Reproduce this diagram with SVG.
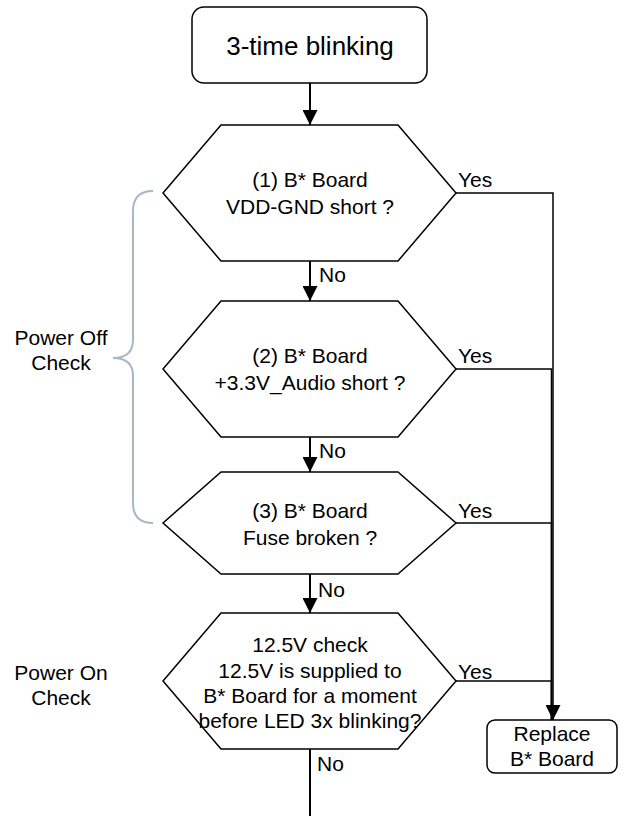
<svg xmlns="http://www.w3.org/2000/svg" width="639" height="816" viewBox="0 0 639 816">
<style>
  .t { font-family: "Liberation Sans", Arial, sans-serif; font-size: 21px; fill: #000; }
  .c { text-anchor: middle; }
  .shape { fill: #fff; stroke: #000; stroke-width: 1.5; }
  .conn { fill: none; stroke: #000; stroke-width: 2; }
  .yes { fill: none; stroke: #000; stroke-width: 1.5; }
  .brace { fill: none; stroke: #A7B7CA; stroke-width: 2; }
</style>
<defs>
  <marker id="arr" markerUnits="userSpaceOnUse" markerWidth="15" markerHeight="15" refX="15" refY="7.5" orient="auto">
    <path d="M0,0 L15,7.5 L0,15 Z" fill="#000"/>
  </marker>
</defs>
<rect width="639" height="816" fill="#fff"/>

<g id="connectors">
  <path class="conn" d="M310,83 V125" marker-end="url(#arr)"/>
  <path class="conn" d="M310,261 V301" marker-end="url(#arr)"/>
  <path class="conn" d="M310,437 V472" marker-end="url(#arr)"/>
  <path class="conn" d="M310,574 V613" marker-end="url(#arr)"/>
  <path class="conn" d="M310,749 V816"/>
  <path class="yes" d="M456,193 H553 V720" marker-end="url(#arr)"/>
  <path class="yes" d="M456,369 H551.5 V720"/>
  <path class="yes" d="M456,523 H551.5 V720"/>
  <path class="yes" d="M456,681 H551.5 V720"/>
  <text class="t" x="319" y="282">No</text>
  <text class="t" x="319" y="458">No</text>
  <text class="t" x="318" y="597">No</text>
  <text class="t" x="317" y="771">No</text>
  <text class="t" x="458" y="187">Yes</text>
  <text class="t" x="458" y="363">Yes</text>
  <text class="t" x="458" y="518">Yes</text>
  <text class="t" x="458" y="679">Yes</text>
</g>

<g id="start">
  <rect class="shape" x="192" y="7" width="235" height="76" rx="12"/>
  <text class="t c" x="310" y="55" style="font-size:26px">3-time blinking</text>
</g>

<g id="check1">
  <polygon class="shape" points="221,125 398,125 456,193 398,261 221,261 163,193"/>
  <text class="t c" x="310" y="187">(1) B* Board</text>
  <text class="t c" x="310" y="214">VDD-GND short ?</text>
</g>

<g id="check2">
  <polygon class="shape" points="221,301 398,301 456,369 398,437 221,437 163,369"/>
  <text class="t c" x="310" y="363">(2) B* Board</text>
  <text class="t c" x="310" y="390">+3.3V_Audio short ?</text>
</g>

<g id="check3">
  <polygon class="shape" points="221,472 398,472 456,523 398,574 221,574 163,523"/>
  <text class="t c" x="310" y="518">(3) B* Board</text>
  <text class="t c" x="310" y="545">Fuse broken ?</text>
</g>

<g id="check4">
  <polygon class="shape" points="221,613 398,613 456,681 398,749 221,749 163,681"/>
  <text class="t c" x="310" y="652">12.5V check</text>
  <text class="t c" x="310" y="678">12.5V is supplied to</text>
  <text class="t c" x="310" y="703">B* Board for a moment</text>
  <text class="t c" x="310" y="728">before LED 3x blinking?</text>
</g>

<g id="replace">
  <rect class="shape" x="487" y="720" width="130" height="53" rx="8"/>
  <text class="t c" x="552" y="741">Replace</text>
  <text class="t c" x="552" y="766">B* Board</text>
</g>

<g id="power-off">
  <path class="brace" d="M153,191 Q133,191 133,211 V340 Q133,358 113,358 Q133,358 133,376 V503 Q133,523 153,523"/>
  <text class="t c" x="61" y="345">Power Off</text>
  <text class="t c" x="61" y="370">Check</text>
</g>

<g id="power-on">
  <text class="t c" x="61" y="680">Power On</text>
  <text class="t c" x="61" y="705">Check</text>
</g>
</svg>
